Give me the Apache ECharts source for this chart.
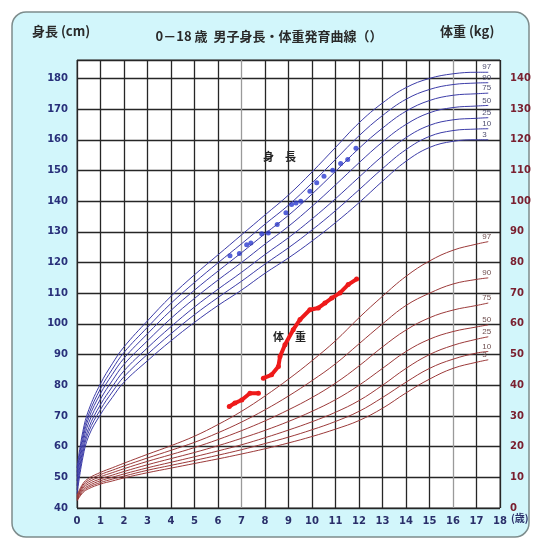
<!DOCTYPE html>
<html>
<head>
<meta charset="utf-8">
<script src="https://cdn.jsdelivr.net/npm/echarts@6.0.0/dist/echarts.min.js"></script>
<style>
html, body { margin: 0; padding: 0; background: #fff; }
#main { width: 538px; height: 540px; }
</style>
</head>
<body>
<div id="main"></div>
<script>
// ages (years) for the reference curves
var ages = [0, 0.25, 0.5, 1, 1.5, 2, 3, 4, 5, 6, 7, 8, 9, 10, 11, 12, 13, 14, 15, 16, 17, 17.5];

// height percentiles (cm)
var h3  = [44.5, 56.5, 63.5, 70.5, 76.0, 81.0, 88.0, 94.5, 100.5, 106.0, 111.0, 116.5, 121.5, 127.0, 133.0, 139.5, 146.5, 153.0, 157.5, 159.5, 160.0, 160.0];
var h10 = [45.9, 57.9, 64.9, 72.1, 77.8, 82.8, 90.1, 96.8, 103.0, 108.6, 113.9, 119.5, 124.8, 130.6, 136.9, 143.7, 150.6, 156.8, 161.1, 163.0, 163.5, 163.6];
var h25 = [47.2, 59.2, 66.2, 73.7, 79.5, 84.7, 92.2, 99.1, 105.5, 111.3, 116.8, 122.6, 128.1, 134.2, 140.8, 147.8, 154.7, 160.7, 164.7, 166.5, 167.0, 167.2];
var h50 = [48.8, 60.8, 67.8, 75.5, 81.5, 86.8, 94.5, 101.8, 108.3, 114.3, 120.0, 126.0, 131.8, 138.3, 145.3, 152.5, 159.3, 165.0, 168.8, 170.5, 171.0, 171.2];
var h75 = [50.3, 62.3, 69.3, 77.3, 83.5, 88.8, 96.8, 104.4, 111.0, 117.2, 123.2, 129.4, 135.4, 142.3, 149.7, 157.2, 163.8, 169.3, 172.8, 174.5, 175.0, 175.2];
var h90 = [51.6, 63.6, 70.6, 78.9, 85.2, 90.7, 98.9, 106.7, 113.5, 119.9, 126.1, 132.5, 138.7, 145.9, 153.6, 161.3, 167.9, 173.2, 176.4, 178.0, 178.5, 178.6];
var h97 = [53.0, 65.0, 72.0, 80.5, 87.0, 92.5, 101.0, 109.0, 116.0, 122.5, 129.0, 135.5, 142.0, 149.5, 157.5, 165.5, 172.0, 177.0, 180.0, 181.5, 182.0, 182.0];

// weight percentiles (kg)
var w3  = [2.3, 5.0, 6.3, 7.8, 8.8, 9.8, 11.5, 13.0, 14.5, 16.0, 17.6, 19.3, 21.2, 23.3, 25.7, 28.5, 32.5, 37.5, 42.0, 45.5, 47.5, 48.3];
var w10 = [2.6, 5.4, 6.8, 8.3, 9.4, 10.4, 12.3, 13.9, 15.5, 17.2, 19.0, 21.0, 23.1, 25.5, 28.2, 31.5, 36.0, 41.0, 45.5, 48.5, 50.5, 51.0];
var w25 = [2.9, 5.9, 7.3, 8.9, 10.0, 11.1, 13.1, 14.9, 16.7, 18.6, 20.6, 22.9, 25.4, 28.1, 31.2, 35.0, 40.0, 45.5, 50.0, 53.0, 55.0, 55.8];
var w50 = [3.2, 6.4, 7.9, 9.5, 10.7, 11.9, 14.1, 16.1, 18.1, 20.3, 22.7, 25.3, 28.2, 31.5, 35.3, 40.0, 45.5, 51.0, 55.0, 57.5, 59.0, 59.7];
var w75 = [3.5, 6.9, 8.5, 10.2, 11.5, 12.8, 15.2, 17.4, 19.7, 22.3, 25.2, 28.4, 32.0, 36.0, 40.7, 46.3, 52.5, 58.0, 62.0, 64.5, 66.0, 66.8];
var w90 = [3.8, 7.4, 9.1, 10.9, 12.3, 13.7, 16.3, 18.8, 21.4, 24.5, 28.0, 32.0, 36.5, 41.5, 47.0, 53.5, 60.0, 66.0, 70.0, 73.0, 74.5, 75.0];
var w97 = [4.1, 7.9, 9.7, 11.6, 13.1, 14.6, 17.5, 20.3, 23.4, 27.2, 31.5, 36.5, 42.0, 48.0, 54.5, 62.0, 69.0, 75.5, 80.5, 84.0, 86.0, 86.8];

// measured child height
var kidHAge = [6.51, 6.91, 7.22, 7.40, 7.86, 8.14, 8.52, 8.89, 9.13, 9.32, 9.52, 9.91, 10.2, 10.51, 10.88, 11.22, 11.52, 11.87];
var kidH    = [122.2, 122.9, 125.8, 126.4, 129.4, 129.6, 132.4, 136.2, 138.9, 139.4, 140.0, 143.2, 146.0, 148.1, 150.1, 152.3, 153.6, 157.2];

// measured child weight (null = gap)
var kidWAge = [6.48, 6.72, 7.01, 7.36, 7.72, 7.82, 7.93, 8.28, 8.57, 8.64, 8.85, 9.2, 9.49, 9.91, 10.27, 10.55, 10.84, 11.19, 11.54, 11.9];
var kidW    = [33.1, 34.2, 35.2, 37.4, 37.4, null, 42.3, 43.4, 46.1, 49.4, 53.2, 58.1, 61.4, 64.6, 65.2, 66.8, 68.4, 70.1, 72.8, 74.6];

var pctNames = ['3', '10', '25', '50', '75', '90', '97'];
var hCurves = [h3, h10, h25, h50, h75, h90, h97];
var wCurves = [w3, w10, w25, w50, w75, w90, w97];

var xTicks = ['0','1','2','3','4','5','6','7','8','9','10','11','12','13','14','15','16','17','18'];

var dom = document.getElementById('main');
var myChart = echarts.init(dom);

function pairs(xs, ys) {
	return xs.map(function (x, i) { return [x, ys[i]]; });
}

var series = [];
hCurves.forEach(function (arr, k) {
	series.push({
		name: 'h' + pctNames[k],
		type: 'line',
		yAxisIndex: 0,
		smooth: 0.4,
		symbol: 'none',
		silent: true,
		lineStyle: { color: '#3c3ca8', width: 1 },
		endLabel: {
			show: true,
			formatter: pctNames[k],
			color: '#505070',
			fontSize: 8,
			offset: [-14, -5]
		},
		data: pairs(ages, arr)
	});
});
wCurves.forEach(function (arr, k) {
	series.push({
		name: 'w' + pctNames[k],
		type: 'line',
		yAxisIndex: 1,
		smooth: 0.4,
		symbol: 'none',
		silent: true,
		lineStyle: { color: '#9c3a3a', width: 1 },
		endLabel: {
			show: true,
			formatter: pctNames[k],
			color: '#705050',
			fontSize: 8,
			offset: [-14, -5]
		},
		data: pairs(ages, arr)
	});
});
series.push({
	name: '身長',
	type: 'scatter',
	yAxisIndex: 0,
	symbol: 'circle',
	symbolSize: 5,
	itemStyle: { color: '#2a3ad0' },
	data: pairs(kidHAge, kidH)
});
series.push({
	name: '体重',
	type: 'line',
	yAxisIndex: 1,
	symbol: 'circle',
	symbolSize: 5,
	connectNulls: false,
	lineStyle: { color: '#ee1a1a', width: 4 },
	itemStyle: { color: '#ee1a1a' },
	data: pairs(kidWAge, kidW)
});

var vColors = [];
for (var i = 0; i < xTicks.length; i++) {
	vColors.push(i === 7 || i === 16 ? '#9a9a9a' : '#262626');
}

var labelFont = 'DejaVu Sans, sans-serif';

option = {
	animation: false,
	title: {
		text: '0－18 歳  男子身長・体重発育曲線（）',
		left: 'center',
		top: 25,
		textStyle: {
			fontFamily: 'Noto Sans CJK JP',
			fontSize: 13,
			fontWeight: 'bold',
			color: '#2a2a2a'
		}
	},
	graphic: [{
		type: 'rect',
		z: -100,
		shape: { x: 12, y: 12, width: 517, height: 525, r: 14 },
		style: { fill: '#d2f6fb', stroke: '#7d8c8c', lineWidth: 1.5 }
	}, {
		type: 'text',
		left: 32, top: 25,
		style: { text: '身長 (cm)', font: 'bold 13px "Noto Sans CJK JP"', fill: '#2a2a2a' }
	}, {
		type: 'text',
		left: 440, top: 25,
		style: { text: '体重 (kg)', font: 'bold 13px "Noto Sans CJK JP"', fill: '#2a2a2a' }
	}, {
		type: 'text',
		left: 511, top: 513,
		style: { text: '(歳)', font: 'bold 10px "Noto Sans CJK JP"', fill: '#2a2f6a' }
	}, {
		type: 'text',
		left: 263, top: 151,
		style: { text: '身　長', font: 'bold 11px "Noto Sans CJK JP"', fill: '#222' }
	}, {
		type: 'text',
		left: 273, top: 331,
		style: { text: '体　重', font: 'bold 11px "Noto Sans CJK JP"', fill: '#222' }
	}],
	grid: {
		show: true,
		left: 77,
		right: 38,
		top: 60,
		bottom: 32,
		backgroundColor: '#ffffff',
		borderColor: '#4a4a4a',
		borderWidth: 1
	},
	xAxis: {
		type: 'value',
		min: 0,
		max: 18,
		interval: 1,
		axisLine: { show: false },
		axisTick: { show: false },
		axisLabel: {
			color: '#2a2f6a',
			fontWeight: 'bold',
			fontSize: 10,
			fontFamily: labelFont,
			margin: 8,
			formatter: function (v) { return xTicks[v]; }
		},
		splitLine: { show: true, lineStyle: { color: vColors, width: 1.3 } }
	},
	yAxis: [{
		type: 'value',
		min: 40,
		max: 186,
		interval: 10,
		axisLine: { show: false },
		axisTick: { show: false },
		axisLabel: {
			color: '#28307a',
			fontWeight: 'bold',
			fontSize: 10,
			fontFamily: labelFont,
			margin: 9,
			formatter: function (v) { return v % 10 === 0 ? String(v) : ''; }
		},
		splitLine: { show: true, lineStyle: { color: '#262626', width: 1.3 } }
	}, {
		type: 'value',
		min: 0,
		max: 146,
		interval: 10,
		position: 'right',
		axisLine: { show: false },
		axisTick: { show: false },
		axisLabel: {
			color: '#7a2030',
			fontWeight: 'bold',
			fontSize: 10,
			fontFamily: labelFont,
			margin: 10,
			formatter: function (v) { return v % 10 === 0 ? String(v) : ''; }
		},
		splitLine: { show: false }
	}],
	series: series
};

if (option && typeof option === "object") {
	myChart.setOption(option, true);
}
</script>
</body>
</html>
